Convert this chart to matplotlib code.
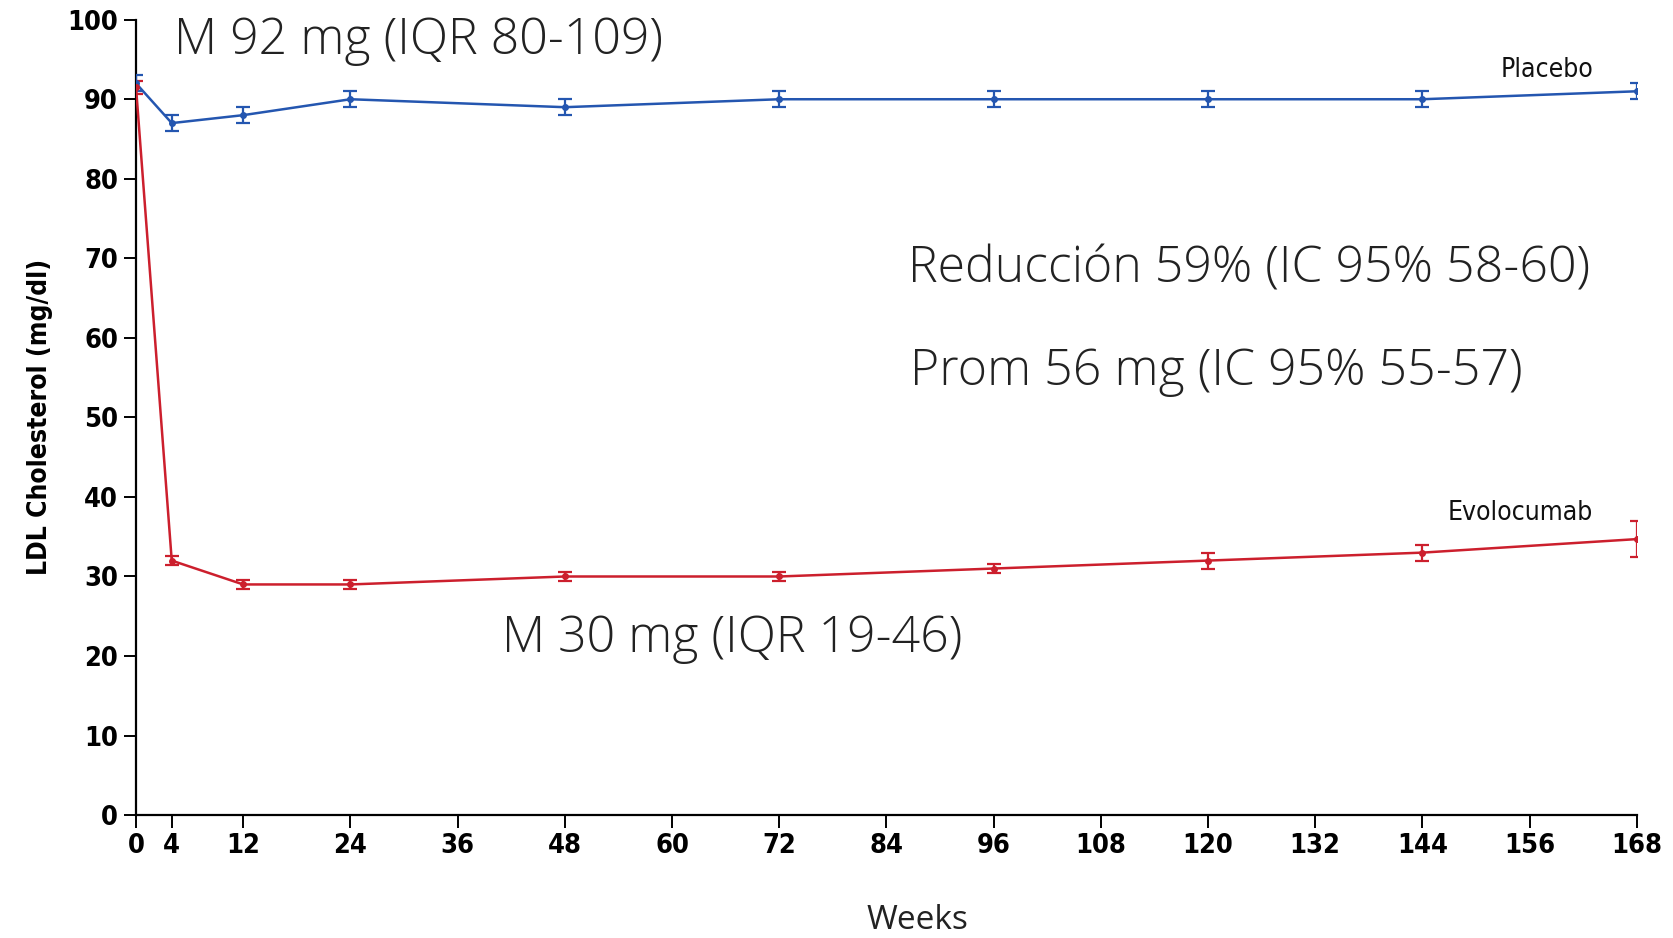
import matplotlib
matplotlib.use("Agg")
import matplotlib.pyplot as plt

# LDL cholesterol over time, placebo vs evolocumab
weeks = [0, 4, 12, 24, 48, 72, 96, 120, 144, 168]
placebo = [92, 87, 88, 90, 89, 90, 90, 90, 90, 91]
placebo_err = [1.0, 1.0, 1.0, 1.0, 1.0, 1.0, 1.0, 1.0, 1.0, 1.0]
evolocumab = [91.5, 32, 29, 29, 30, 30, 31, 32, 33, 34.7]
evolocumab_err = [0.8, 0.6, 0.6, 0.6, 0.6, 0.6, 0.6, 1.0, 1.0, 2.3]
xtick_vals = [0, 4, 12, 24, 36, 48, 60, 72, 84, 96, 108, 120, 132, 144, 156, 168]
ytick_vals = list(range(0, 101, 10))

blue = "#2456b0"
red = "#cc1f2d"
note_font = ["Open Sans", "DejaVu Sans"]
cond = dict(family="DejaVu Sans", stretch="condensed", fontweight="bold")

fig = plt.figure(figsize=(16.73, 9.38), dpi=100)
ax = fig.add_axes([0.0813, 0.131, 0.897, 0.848])

ax.errorbar(weeks, placebo, yerr=placebo_err, color=blue, lw=1.8, marker="o",
            ms=4, capsize=5, elinewidth=1.6, capthick=1.6, zorder=3)
ax.errorbar(weeks, evolocumab, yerr=evolocumab_err, color=red, lw=1.8, marker="o",
            ms=4, capsize=5, elinewidth=1.6, capthick=1.6, zorder=3)

ax.set_xlim(0, 168)
ax.set_ylim(0, 100)
ax.set_xticks(xtick_vals)
ax.set_yticks(ytick_vals)
for s in ["top", "right"]:
    ax.spines[s].set_visible(False)
for s in ["left", "bottom"]:
    ax.spines[s].set_linewidth(1.6)
ax.tick_params(axis="both", direction="out", length=9, width=1.4, pad=4)
for lbl in ax.get_xticklabels() + ax.get_yticklabels():
    lbl.set_family("DejaVu Sans")
    lbl.set_stretch("condensed")
    lbl.set_fontweight("bold")
    lbl.set_fontsize(19.5)

ax.set_ylabel("LDL Cholesterol (mg/dl)", fontsize=19, labelpad=10, **cond)

# series labels
ax.text(158, 93.7, "Placebo", fontsize=19, ha="center", va="center",
        family="DejaVu Sans", stretch="condensed", color="#111111")
ax.text(155, 38, "Evolocumab", fontsize=19, ha="center", va="center",
        family="DejaVu Sans", stretch="condensed", color="#111111")

# annotations
notes = dict(family=note_font, fontsize=36, fontweight="light", ha="left",
             va="center", color="#222222")
ax.text(4.3, 97.3, "M 92 mg (IQR 80-109)", **notes)
ax.text(86.4, 68.6, "Reducción 59% (IC 95% 58-60)", **notes)
ax.text(86.7, 55.7, "Prom 56 mg (IC 95% 55-57)", **notes)
ax.text(41, 22.1, "M 30 mg (IQR 19-46)", **notes)

ax.text(87.5, -13.2, "Weeks", family=note_font, fontsize=24, ha="center",
        va="center", color="#222222")

fig.savefig("out.png", dpi=100)
